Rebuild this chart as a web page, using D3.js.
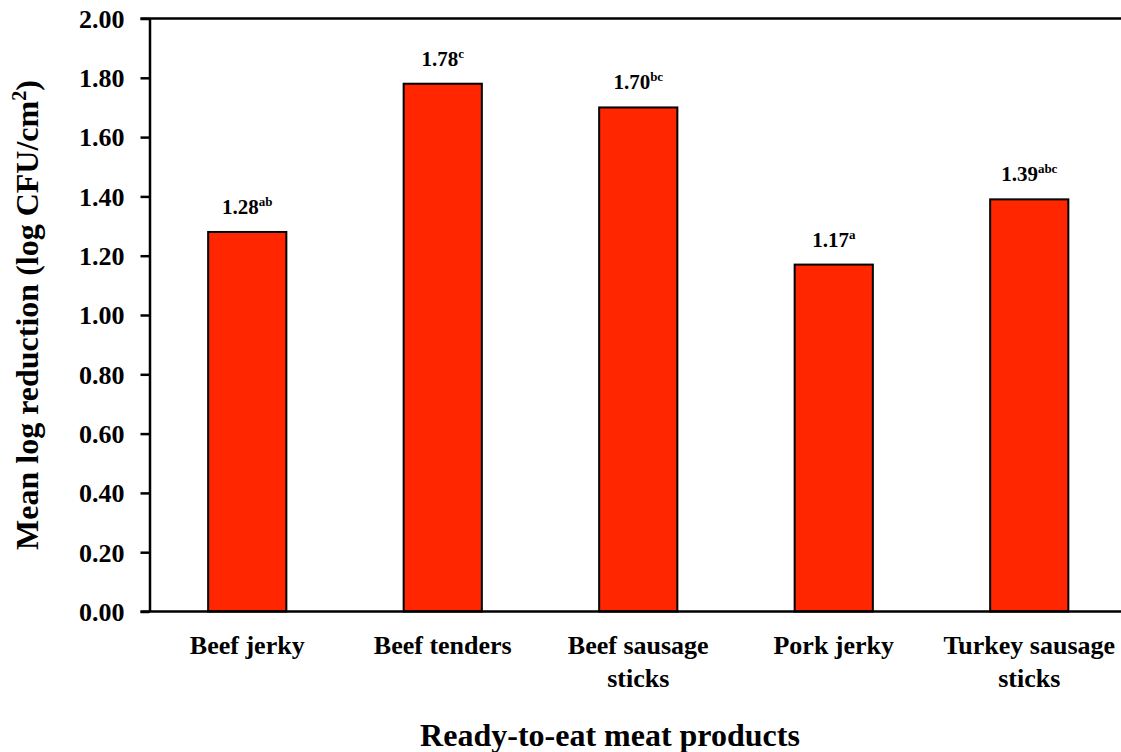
<!DOCTYPE html>
<html>
<head>
<meta charset="utf-8">
<script src="https://cdn.jsdelivr.net/npm/d3@7"></script>
<style>
  html, body { margin: 0; padding: 0; background: #fff; }
  svg { display: block; }
  svg text { font-family: "Liberation Serif", "Times New Roman", serif; font-weight: bold; fill: #000; }
</style>
</head>
<body>
<svg id="chart" width="1121" height="752"></svg>
<script>
// Mean log reduction per ready-to-eat meat product
const products = [["Beef jerky"], ["Beef tenders"], ["Beef sausage", "sticks"], ["Pork jerky"], ["Turkey sausage", "sticks"]];
const reductions = [1.28, 1.78, 1.70, 1.17, 1.39];
const letters = ["ab", "c", "bc", "a", "abc"];
const yTicks = [0, 0.2, 0.4, 0.6, 0.8, 1.0, 1.2, 1.4, 1.6, 1.8, 2.0];

(function () {
const svg = d3.select("#chart");
const mLeft = 149.5, mRight = 1127, mTop = 18.5, mBottom = 611.5;

const keys = products.map((p, i) => i);
const x = d3.scaleBand().domain(keys).range([mLeft, mRight]).paddingInner(0.6).paddingOuter(0.3);
const y = d3.scaleLinear().domain([0, 2]).range([mBottom, mTop]);

// Bars
svg.append("g").selectAll("rect").data(reductions).join("rect")
  .attr("x", (d, i) => x(i))
  .attr("y", d => y(d))
  .attr("width", x.bandwidth())
  .attr("height", d => y(0) - y(d))
  .attr("fill", "#ff2600")
  .attr("stroke", "#000")
  .attr("stroke-width", 2);

// Value labels with significance letters
const lab = svg.append("g").selectAll("text").data(reductions).join("text")
  .attr("x", (d, i) => x(i) + x.bandwidth() / 2)
  .attr("y", d => y(d) - 18)
  .attr("text-anchor", "middle")
  .attr("font-size", 21);
lab.append("tspan").text(d => d.toFixed(2));
lab.append("tspan").attr("font-size", 13).attr("dy", -8).text((d, i) => letters[i]);

// Y axis
const yAxis = svg.append("g").attr("transform", `translate(${mLeft},0)`)
  .call(d3.axisLeft(y).tickValues(yTicks).tickFormat(d3.format(".2f")).tickSize(9).tickSizeOuter(0));
yAxis.attr("font-family", null).attr("font-size", null);
yAxis.select(".domain").attr("stroke-width", 2.5);
yAxis.selectAll(".tick line").attr("stroke-width", 2.5);
yAxis.selectAll(".tick text").attr("font-size", 26).attr("x", -25).attr("dy", "0.34em");

// Top and bottom frame lines
svg.append("line").attr("x1", mLeft - 9).attr("x2", 1121).attr("y1", mTop).attr("y2", mTop)
  .attr("stroke", "#000").attr("stroke-width", 2.5);
svg.append("line").attr("x1", mLeft - 9).attr("x2", 1121).attr("y1", mBottom).attr("y2", mBottom)
  .attr("stroke", "#000").attr("stroke-width", 2.5);

// Category labels
const cat = svg.append("g").selectAll("text").data(products).join("text")
  .attr("x", (d, i) => x(i) + x.bandwidth() / 2)
  .attr("y", 654)
  .attr("text-anchor", "middle")
  .attr("font-size", 26);
cat.selectAll("tspan").data(d => d).join("tspan")
  .attr("x", function () { return this.parentNode.getAttribute("x"); })
  .attr("dy", (d, j) => j === 0 ? 0 : 33)
  .text(d => d);

// Axis titles
svg.append("text").attr("x", 610).attr("y", 746)
  .attr("text-anchor", "middle").attr("font-size", 32).text("Ready-to-eat meat products");

const yt = svg.append("text").attr("transform", `translate(38,${(mTop + mBottom) / 2}) rotate(-90)`)
  .attr("text-anchor", "middle").attr("font-size", 32);
yt.append("tspan").text("Mean log reduction (log CFU/cm");
yt.append("tspan").attr("font-size", 20).attr("dy", -12).text("2");
yt.append("tspan").attr("dy", 12).text(")");
})();
</script>
</body>
</html>
